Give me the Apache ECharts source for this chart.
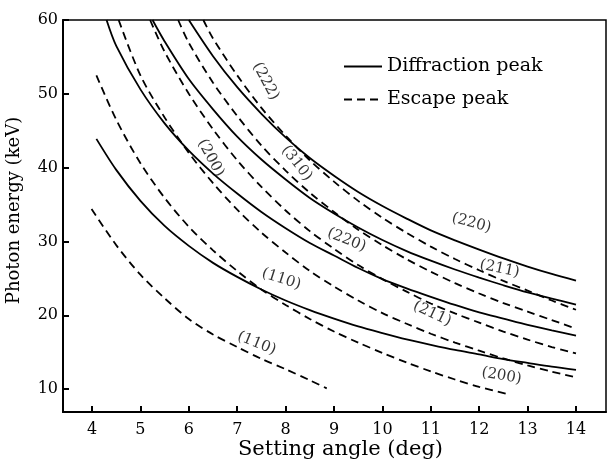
<!DOCTYPE html>
<html>
<head>
<meta charset="utf-8">
<script src="https://cdn.jsdelivr.net/npm/echarts@6/dist/echarts.min.js"></script>
<style>html,body{margin:0;padding:0;background:#fff}#c{width:608px;height:467px}</style>
</head>
<body>
<div id="c"></div>
<script>
// ---- Data ----
const xTicks = [4, 5, 6, 7, 8, 9, 10, 11, 12, 13, 14];
const yTicks = [10, 20, 30, 40, 50, 60];

// Diffraction peaks (solid)
const d110Angle = [4.09, 4.5, 5, 5.5, 6, 6.5, 7, 7.5, 8, 8.5, 9, 9.5, 10, 10.5, 11, 11.5, 12, 12.5, 13, 13.5, 14];
const d110Energy = [43.9, 39.7, 35.5, 32.1, 29.4, 27.1, 25.2, 23.5, 22.0, 20.7, 19.55, 18.5, 17.6, 16.75, 16.0, 15.3, 14.7, 14.07, 13.55, 13.04, 12.6];
const d200Angle = [4.3, 4.5, 5, 5.5, 6, 6.5, 7, 7.5, 8, 8.5, 9, 9.5, 10, 10.5, 11, 11.5, 12, 12.5, 13, 13.5, 14];
const d200Energy = [60, 56.5, 50.6, 46.0, 42.3, 39.2, 36.5, 34.0, 31.8, 29.8, 28.1, 26.4, 24.9, 23.65, 22.5, 21.4, 20.4, 19.55, 18.7, 17.95, 17.25];
const d211Angle = [5.25, 5.5, 6, 6.5, 7, 7.5, 8, 8.5, 9, 9.5, 10, 10.5, 11, 11.5, 12, 12.5, 13, 13.5, 14];
const d211Energy = [60, 57.1, 52.0, 47.9, 44.2, 41.1, 38.4, 35.9, 33.8, 31.9, 30.2, 28.7, 27.4, 26.2, 25.1, 24.07, 23.1, 22.27, 21.45];
const d220Angle = [6.0, 6.5, 7, 7.5, 8, 8.5, 9, 9.5, 10, 10.5, 11, 11.5, 12, 12.5, 13, 13.5, 14];
const d220Energy = [60, 55.1, 50.9, 47.3, 44.1, 41.3, 38.9, 36.7, 34.8, 33.1, 31.5, 30.15, 28.9, 27.7, 26.6, 25.6, 24.7];

// Escape peaks (dashed)
const e110Angle = [3.99, 4.5, 5, 5.5, 6, 6.5, 7, 7.5, 8, 8.5, 8.85];
const e110Energy = [34.4, 29.5, 25.5, 22.3, 19.5, 17.4, 15.7, 14.1, 12.7, 11.2, 10.1];
const e200Angle = [4.09, 4.5, 5, 5.5, 6, 6.5, 7, 7.5, 8, 8.5, 9, 9.5, 10, 10.5, 11, 11.5, 12, 12.55];
const e200Energy = [52.5, 46.5, 40.6, 35.9, 32.0, 28.8, 26.0, 23.5, 21.4, 19.5, 17.8, 16.3, 14.9, 13.6, 12.4, 11.3, 10.3, 9.4];
const e211Angle = [4.55, 5, 5.5, 6, 6.5, 7, 7.5, 8, 8.5, 9, 9.5, 10, 10.5, 11, 11.5, 12, 12.5, 13, 13.5, 14];
const e211Energy = [60, 52.5, 46.8, 42.0, 37.9, 34.3, 31.2, 28.5, 26.0, 23.9, 22.0, 20.3, 18.85, 17.5, 16.3, 15.2, 14.15, 13.2, 12.37, 11.6];
const e220Angle = [5.2, 5.5, 6, 6.5, 7, 7.5, 8, 8.5, 9, 9.5, 10, 10.5, 11, 11.5, 12, 12.5, 13, 13.5, 14];
const e220Energy = [60, 55.7, 50.0, 45.2, 41.0, 37.4, 34.2, 31.4, 29.0, 26.8, 24.9, 23.2, 21.6, 20.25, 19.0, 17.8, 16.7, 15.7, 14.85];
const e310Angle = [5.78, 6, 6.5, 7, 7.5, 8, 8.5, 9, 9.5, 10, 10.5, 11, 11.5, 12, 12.5, 13, 13.5, 14];
const e310Energy = [60, 56.9, 51.5, 47.0, 43.0, 39.6, 36.6, 34.0, 31.6, 29.5, 27.6, 25.9, 24.36, 22.95, 21.66, 20.5, 19.35, 18.2];
const e222Angle = [6.3, 6.5, 7, 7.5, 8, 8.5, 9, 9.5, 10, 10.5, 11, 11.5, 12, 12.5, 13, 13.5, 14];
const e222Energy = [60, 57.5, 52.5, 48.1, 44.35, 41.0, 38.1, 35.5, 33.2, 31.17, 29.3, 27.62, 26.1, 24.66, 23.35, 22.0, 20.75];

// Curve annotations: text, anchor angle, anchor energy
const labelText = ['(222)', '(310)', '(200)', '(220)', '(220)', '(211)', '(211)', '(200)', '(110)', '(110)'];
const labelAngle = [7.59, 8.23, 6.45, 9.26, 11.84, 12.42, 11.03, 12.46, 7.91, 7.40];
const labelEnergy = [51.7, 40.6, 41.3, 30.2, 32.5, 26.3, 20.2, 11.8, 24.9, 16.2];
const labelTilt = [-62, -52, -62, -22, -15, -12, -25, -10, -18, -22];

const DIFF = 'Diffraction peak';
const ESC = 'Escape peak';
const FONT = '"DejaVu Serif", "Liberation Serif", serif';

function curve(name, xs, ys, dashed) {
  return {
    type: 'line', name: name,
    data: xs.map((x, i) => [x, ys[i]]),
    symbol: 'none', smooth: 0.3,
    silent: true, clip: true,
    lineStyle: { color: '#000', width: 1.8, type: dashed ? [8, 5] : 'solid' },
    itemStyle: { color: '#000' }
  };
}

const series = [
  curve(DIFF, d110Angle, d110Energy, false),
  curve(DIFF, d200Angle, d200Energy, false),
  curve(DIFF, d211Angle, d211Energy, false),
  curve(DIFF, d220Angle, d220Energy, false),
  curve(ESC, e110Angle, e110Energy, true),
  curve(ESC, e200Angle, e200Energy, true),
  curve(ESC, e211Angle, e211Energy, true),
  curve(ESC, e220Angle, e220Energy, true),
  curve(ESC, e310Angle, e310Energy, true),
  curve(ESC, e222Angle, e222Energy, true),
  {
    type: 'scatter', name: 'labels', silent: true,
    symbolSize: 0,
    data: labelText.map((t, i) => ({ name: t, value: [labelAngle[i], labelEnergy[i]], label: { rotate: labelTilt[i] } })),
    label: {
      show: true, position: 'inside', formatter: '{b}',
      fontFamily: FONT, fontSize: 15, color: '#000'
    }
  }
];

const chart = echarts.init(document.getElementById('c'), null, { renderer: 'canvas' });
chart.setOption({
  animation: false,
  backgroundColor: '#fff',
  grid: { left: 63, right: 2, top: 20, bottom: 55, outerBoundsMode: 'none', containLabel: false,
          show: true, borderColor: '#000', borderWidth: 1.5, backgroundColor: 'transparent' },
  legend: {
    orient: 'vertical', left: 338, top: 52,
    itemWidth: 38, itemHeight: 14, itemGap: 14,
    data: [DIFF, ESC],
    itemStyle: { color: 'rgba(0,0,0,0)', borderColor: 'rgba(0,0,0,0)', borderWidth: 0, opacity: 0 },
    textStyle: { fontFamily: FONT, fontSize: 19, color: '#000' },
    selectedMode: false
  },
  xAxis: {
    type: 'value', min: 3.4, max: 14.62,
    name: 'Setting angle (deg)', nameLocation: 'middle', nameGap: 27, nameMoveOverlap: false,
    nameTextStyle: { fontFamily: FONT, fontSize: 21, color: '#000', padding: [0, 0, 0, 12] },
    axisLine: { show: true, lineStyle: { color: '#000', width: 2 } },
    axisTick: { show: true, inside: true, length: 6, lineStyle: { color: '#000', width: 2 }, customValues: xTicks },
    axisLabel: { fontFamily: FONT, fontSize: 16, color: '#000', margin: 10, customValues: xTicks },
    splitLine: { show: false }
  },
  yAxis: {
    type: 'value', min: 6.9, max: 60,
    name: 'Photon energy (keV)', nameLocation: 'middle', nameGap: 40, nameMoveOverlap: false,
    nameTextStyle: { fontFamily: FONT, fontSize: 18, color: '#000', padding: [0, 0, 0, 11] },
    axisLine: { show: true, lineStyle: { color: '#000', width: 2 } },
    axisTick: { show: true, inside: true, length: 6, lineStyle: { color: '#000', width: 2 }, customValues: yTicks },
    axisLabel: { fontFamily: FONT, fontSize: 16, color: '#000', margin: 5, customValues: yTicks },
    splitLine: { show: false }
  },
  series: series
});
</script>
</body>
</html>
